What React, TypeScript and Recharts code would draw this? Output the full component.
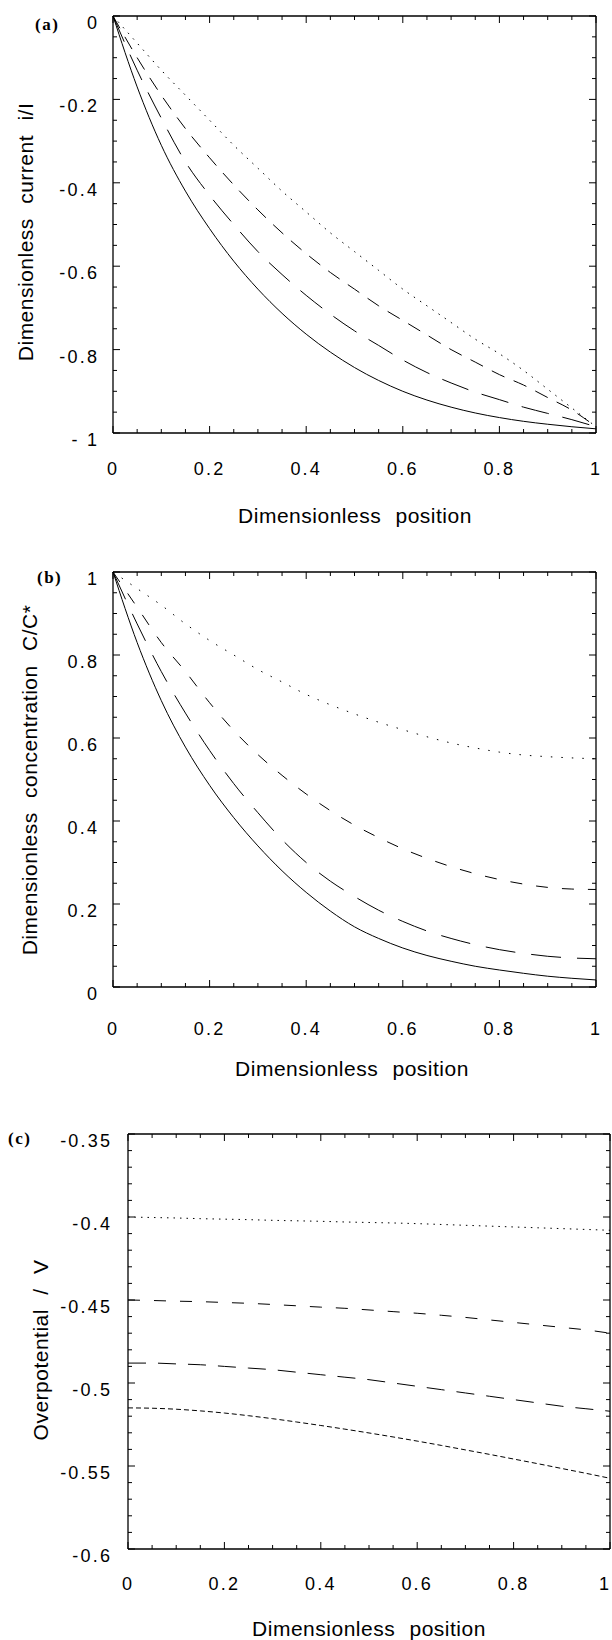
import { LineChart, Line, XAxis, YAxis, ReferenceLine } from 'recharts';

// dimensionless position (shared x values of every curve)
const positions = [0, 0.05, 0.1, 0.15, 0.2, 0.25, 0.3, 0.35, 0.4, 0.45, 0.5, 0.55, 0.6, 0.65, 0.7, 0.75, 0.8, 0.85, 0.9, 0.95, 1];

// (a) dimensionless current i/I
const currentSolid = [0, -0.17, -0.31, -0.42, -0.51, -0.588, -0.655, -0.713, -0.763, -0.806, -0.843, -0.874, -0.9, -0.921, -0.938, -0.952, -0.963, -0.972, -0.979, -0.985, -0.99];
const currentLongDash = [0, -0.13, -0.245, -0.35, -0.43, -0.5, -0.565, -0.62, -0.67, -0.715, -0.755, -0.79, -0.825, -0.855, -0.88, -0.902, -0.92, -0.938, -0.953, -0.968, -0.985];
const currentDash = [0, -0.1, -0.19, -0.27, -0.34, -0.405, -0.465, -0.52, -0.57, -0.615, -0.655, -0.695, -0.73, -0.765, -0.8, -0.83, -0.86, -0.885, -0.915, -0.945, -0.985];
const currentDot = [0, -0.065, -0.13, -0.19, -0.25, -0.31, -0.365, -0.42, -0.47, -0.52, -0.565, -0.61, -0.655, -0.695, -0.735, -0.775, -0.81, -0.85, -0.895, -0.94, -0.985];

// (b) dimensionless concentration C/C*
const concSolid = [1, 0.83, 0.69, 0.578, 0.486, 0.408, 0.34, 0.28, 0.228, 0.183, 0.145, 0.117, 0.094, 0.076, 0.062, 0.05, 0.041, 0.033, 0.026, 0.021, 0.017];
const concLongDash = [1, 0.875, 0.76, 0.66, 0.57, 0.49, 0.42, 0.355, 0.3, 0.255, 0.218, 0.185, 0.158, 0.135, 0.117, 0.102, 0.09, 0.081, 0.074, 0.07, 0.068];
const concDash = [1, 0.915, 0.83, 0.76, 0.685, 0.618, 0.56, 0.51, 0.465, 0.425, 0.39, 0.36, 0.333, 0.31, 0.29, 0.273, 0.259, 0.248, 0.24, 0.236, 0.235];
const concDot = [1, 0.96, 0.92, 0.875, 0.835, 0.8, 0.765, 0.735, 0.705, 0.68, 0.658, 0.638, 0.62, 0.603, 0.588, 0.576, 0.566, 0.559, 0.555, 0.552, 0.55];

// (c) overpotential / V
const overSolid = [-0.515, -0.5152, -0.5158, -0.5168, -0.5181, -0.5197, -0.5215, -0.5235, -0.5256, -0.5278, -0.5301, -0.5325, -0.535, -0.5376, -0.5403, -0.543, -0.5458, -0.5486, -0.5515, -0.5544, -0.5574];
const overLongDash = [-0.488, -0.488, -0.4885, -0.489, -0.49, -0.491, -0.492, -0.4935, -0.495, -0.4965, -0.498, -0.5, -0.502, -0.504, -0.506, -0.508, -0.51, -0.512, -0.514, -0.5155, -0.517];
const overDash = [-0.45, -0.4503, -0.4507, -0.451, -0.4515, -0.452, -0.4527, -0.4535, -0.4543, -0.455, -0.456, -0.457, -0.458, -0.4592, -0.4605, -0.462, -0.4635, -0.465, -0.4665, -0.468, -0.47];
const overDot = [-0.4, -0.4003, -0.4006, -0.401, -0.4013, -0.4016, -0.402, -0.4023, -0.4026, -0.403, -0.4033, -0.4036, -0.404, -0.4045, -0.405, -0.4055, -0.406, -0.4065, -0.407, -0.4075, -0.408];

// tick values and labels
const xMajor = [0, 0.2, 0.4, 0.6, 0.8, 1];
const xLabels = ['0', '0.2', '0.4', '0.6', '0.8', '1'];
const currentMajor = [0, -0.2, -0.4, -0.6, -0.8, -1];
const currentLabels = ['0', '-0.2', '-0.4', '-0.6', '-0.8', '- 1'];
const concMajor = [0, 0.2, 0.4, 0.6, 0.8, 1];
const concLabels = ['0', '0.2', '0.4', '0.6', '0.8', '1'];
const overMajor = [-0.35, -0.4, -0.45, -0.5, -0.55, -0.6];
const overLabels = ['-0.35', '-0.4', '-0.45', '-0.5', '-0.55', '-0.6'];

const steps = (from: number, to: number, step: number) => {
  const out: number[] = [];
  const n = Math.round((to - from) / step);
  for (let i = 0; i <= n; i++) out.push(Math.round((from + i * step) * 10000) / 10000);
  return out;
};

const tickFont = { fontFamily: '"Liberation Sans", Arial, sans-serif', fontSize: 18, letterSpacing: 2.2, fill: '#000' };
const titleFont = { fontFamily: '"Liberation Sans", Arial, sans-serif', fontSize: 21, letterSpacing: 0.5, wordSpacing: 8, fill: '#000' };
const letterFont = { fontFamily: '"Liberation Serif", "Times New Roman", serif', fontSize: 17, fontWeight: 700, letterSpacing: 1.5, fill: '#000' };

const near = (a: number, b: number) => Math.abs(a - b) < 1e-6;

function XTick(props: any) {
  const { x, y, payload, plotH, labelDy } = props;
  const i = xMajor.findIndex((m) => near(m, payload.value));
  const len = i >= 0 ? 7 : 4;
  return (
    <g>
      <line x1={x} x2={x} y1={y} y2={y - len} stroke="#000" />
      <line x1={x} x2={x} y1={y - plotH} y2={y - plotH + len} stroke="#000" />
      {i >= 0 && (
        <text x={Math.min(x, 605)} y={y + labelDy} textAnchor="middle" style={tickFont}>
          {xLabels[i]}
        </text>
      )}
    </g>
  );
}

function YTick(props: any) {
  const { x, y, payload, plotW, majors, labels, gap } = props;
  const i = majors.findIndex((m: number) => near(m, payload.value));
  const len = i >= 0 ? 7 : 4;
  return (
    <g>
      <line x1={x} x2={x + len} y1={y} y2={y} stroke="#000" />
      <line x1={x + plotW} x2={x + plotW - len} y1={y} y2={y} stroke="#000" />
      {i >= 0 && (
        <text x={x - gap + 2.2} y={y + 13} textAnchor="end" style={tickFont}>
          {labels[i]}
        </text>
      )}
    </g>
  );
}

type Series = { key: string; values: number[]; dash?: string };

type PanelProps = {
  top: number;
  height: number;
  margin: { top: number; left: number; right: number; bottom: number };
  plotW: number;
  plotH: number;
  yDomain: [number, number];
  yTicks: number[];
  yMajor: number[];
  yLabels: string[];
  labelGap: number;
  xLabelDy: number;
  series: Series[];
};

function Panel({ top, height, margin, plotW, plotH, yDomain, yTicks, yMajor, yLabels, labelGap, xLabelDy, series }: PanelProps) {
  const data = positions.map((x, i) => {
    const row: Record<string, number> = { x };
    series.forEach((s) => (row[s.key] = s.values[i]));
    return row;
  });
  return (
    <div style={{ position: 'absolute', left: 0, top }}>
      <LineChart width={612} height={height} data={data} margin={margin}>
        <XAxis
          dataKey="x"
          type="number"
          domain={[0, 1]}
          ticks={steps(0, 1, 0.05)}
          interval={0}
          height={20}
          tickSize={0}
          tickMargin={0}
          tickLine={false}
          axisLine={{ stroke: '#000', strokeWidth: 1.3 }}
          tick={(p: any) => <XTick {...p} plotH={plotH} labelDy={xLabelDy} />}
        />
        <YAxis
          type="number"
          domain={yDomain}
          ticks={yTicks}
          interval={0}
          width={40}
          tickSize={0}
          tickMargin={0}
          tickLine={false}
          axisLine={{ stroke: '#000', strokeWidth: 1.3 }}
          tick={(p: any) => <YTick {...p} plotW={plotW} majors={yMajor} labels={yLabels} gap={labelGap} />}
        />
        <ReferenceLine y={yDomain[1]} stroke="#000" strokeWidth={1.3} />
        <ReferenceLine x={1} stroke="#000" strokeWidth={1.3} />
        {series.map((s) => (
          <Line
            key={s.key}
            dataKey={s.key}
            type="monotone"
            stroke="#000"
            strokeWidth={1}
            strokeDasharray={s.dash}
            dot={false}
            activeDot={false}
            isAnimationActive={false}
          />
        ))}
      </LineChart>
    </div>
  );
}

export default function App() {
  return (
    <div style={{ position: 'relative', width: 612, height: 1640, background: '#fff', overflow: 'hidden' }}>
      <style>{'body{margin:0}'}</style>
      <Panel
        top={0}
        height={540}
        margin={{ top: 16, left: 73, right: 16, bottom: 87 }}
        plotW={483}
        plotH={417}
        yDomain={[-1, 0]}
        yTicks={steps(-1, 0, 0.05)}
        yMajor={currentMajor}
        yLabels={currentLabels}
        labelGap={16}
        xLabelDy={41.5}
        series={[
          { key: 'solid', values: currentSolid },
          { key: 'longDash', values: currentLongDash, dash: '28 14' },
          { key: 'dash', values: currentDash, dash: '14 10' },
          { key: 'dot', values: currentDot, dash: '1.5 6' },
        ]}
      />
      <Panel
        top={540}
        height={540}
        margin={{ top: 32, left: 73, right: 16, bottom: 73 }}
        plotW={483}
        plotH={415}
        yDomain={[0, 1]}
        yTicks={steps(0, 1, 0.05)}
        yMajor={concMajor}
        yLabels={concLabels}
        labelGap={16}
        xLabelDy={47.5}
        series={[
          { key: 'solid', values: concSolid },
          { key: 'longDash', values: concLongDash, dash: '30 16' },
          { key: 'dash', values: concDash, dash: '12 14' },
          { key: 'dot', values: concDot, dash: '1.5 9' },
        ]}
      />
      <Panel
        top={1080}
        height={560}
        margin={{ top: 54, left: 88, right: 2, bottom: 71 }}
        plotW={482}
        plotH={415}
        yDomain={[-0.6, -0.35]}
        yTicks={steps(-0.6, -0.35, 0.01)}
        yMajor={overMajor}
        yLabels={overLabels}
        labelGap={18}
        xLabelDy={40.5}
        series={[
          { key: 'solid', values: overSolid, dash: '5 3' },
          { key: 'longDash', values: overLongDash, dash: '18 12' },
          { key: 'dash', values: overDash, dash: '12 14' },
          { key: 'dot', values: overDot, dash: '1.5 5' },
        ]}
      />
      <svg width={612} height={1640} style={{ position: 'absolute', left: 0, top: 0, pointerEvents: 'none' }}>
        <text x={35} y={30} style={letterFont}>(a)</text>
        <text x={37} y={583} style={letterFont}>(b)</text>
        <text x={8} y={1144} style={letterFont}>(c)</text>

        <text transform="translate(33,232) rotate(-90)" textAnchor="middle" style={titleFont}>
          Dimensionless current i/I
        </text>
        <text transform="translate(37,780) rotate(-90)" textAnchor="middle" style={titleFont}>
          Dimensionless concentration C/C*
        </text>
        <text transform="translate(48,1350) rotate(-90)" textAnchor="middle" style={titleFont}>
          Overpotential / V
        </text>

        <text x={355} y={523} textAnchor="middle" style={titleFont}>Dimensionless position</text>
        <text x={352} y={1076} textAnchor="middle" style={titleFont}>Dimensionless position</text>
        <text x={369} y={1636} textAnchor="middle" style={titleFont}>Dimensionless position</text>
      </svg>
    </div>
  );
}
